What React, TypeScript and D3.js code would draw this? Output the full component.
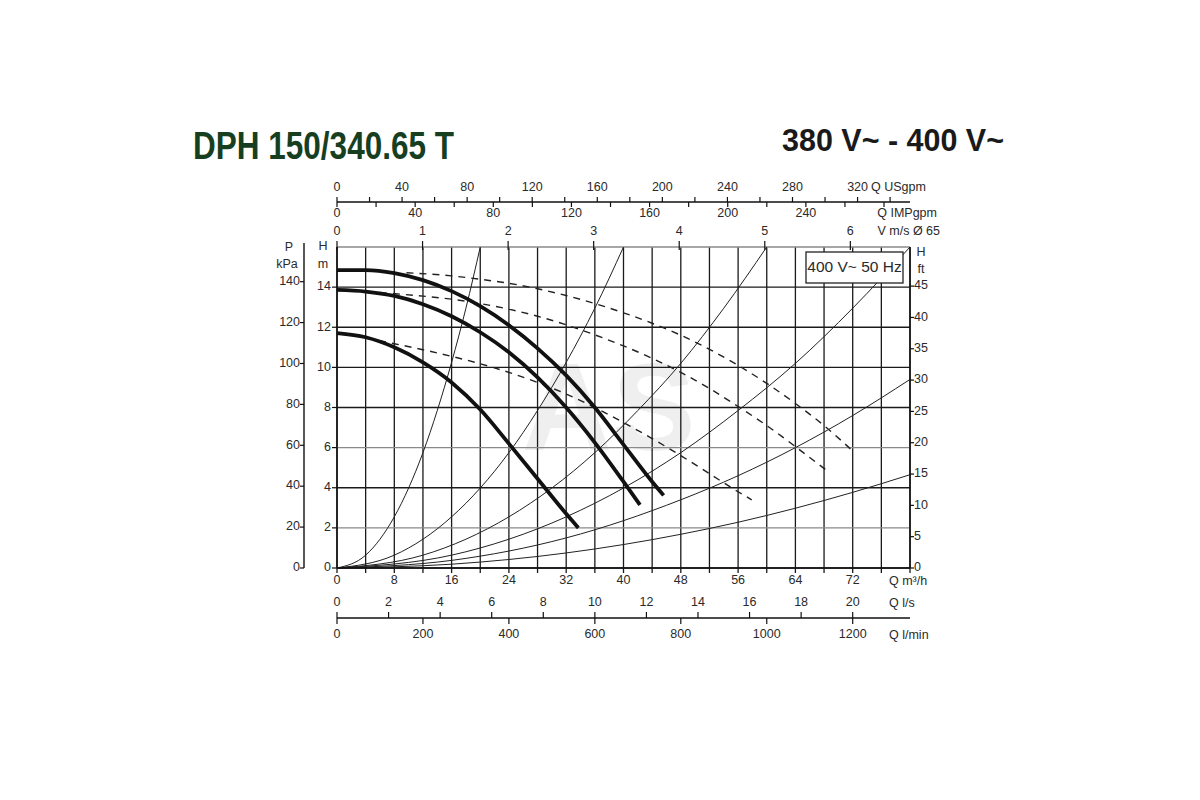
import { useEffect, useRef } from 'react'
import * as d3 from 'd3'

type Pt = [number, number]

// Pump curves (Q m³/h, H m), thick solid
const curveMax: Pt[] = [[0, 14.85], [4, 14.85], [8, 14.7], [12, 14.35], [16, 13.8], [20, 13.05], [24, 12.1], [28, 10.95], [32, 9.6], [36, 8.0], [40, 6.15], [44, 4.3], [45.6, 3.62]]
const curveMid: Pt[] = [[0, 13.86], [4, 13.78], [8, 13.56], [12, 13.15], [16, 12.55], [20, 11.75], [24, 10.75], [28, 9.5], [32, 8.0], [36, 6.25], [40, 4.3], [42.3, 3.15]]
const curveMin: Pt[] = [[0, 11.71], [4, 11.5], [8, 11.0], [12, 10.25], [16, 9.25], [20, 7.9], [24, 6.2], [28, 4.45], [32, 2.7], [33.7, 2.0]]

// Dashed curves
const dashMax: Pt[] = [[9.7, 14.72], [16, 14.56], [20, 14.39], [24, 14.19], [28, 13.92], [32, 13.58], [36, 13.18], [40, 12.72], [44, 12.2], [48, 11.6], [52, 10.9], [56, 10.1], [60, 9.2], [64, 8.2], [68, 7.1], [72.1, 5.8]]
const dashMid: Pt[] = [[6, 13.73], [12, 13.55], [16, 13.4], [20, 13.18], [24, 12.9], [28, 12.55], [32, 12.12], [36, 11.62], [40, 11.07], [44, 10.45], [48, 9.75], [52, 8.95], [56, 8.05], [60, 7.1], [64, 6.05], [68.4, 4.85]]
const dashMin: Pt[] = [[4.1, 11.45], [8, 11.18], [12, 10.88], [16, 10.55], [20, 10.18], [24, 9.75], [28, 9.25], [32, 8.67], [36, 8.0], [40, 7.25], [44, 6.45], [48, 5.6], [52, 4.7], [56, 3.8], [57.9, 3.4]]

// System curves, thin solid
const systemCurves: Pt[][] = [
  [[0, 0], [4, 0.64], [8, 2.55], [12, 5.75], [14, 7.85], [16, 10.25], [18, 12.95], [20, 16]],
  [[0, 0], [8, 0.64], [16, 2.55], [24, 5.75], [28, 7.85], [32, 10.25], [36, 12.95], [40, 16]],
  [[0, 0], [12, 0.64], [24, 2.55], [36, 5.75], [42, 7.85], [48, 10.2], [54, 12.95], [60, 16]],
  [[0, 0], [16, 0.64], [32, 2.55], [48, 5.75], [56, 7.85], [64, 10.2], [72, 12.95], [80, 16]],
  [[0, 0], [16, 0.38], [32, 1.5], [48, 3.4], [56, 4.6], [64, 6.0], [72, 7.6], [80, 9.4]],
  [[0, 0], [16, 0.19], [32, 0.75], [48, 1.68], [56, 2.28], [64, 2.98], [72, 3.77], [80, 4.65]],
]

// Axis ticks
const qTicks = [0, 8, 16, 24, 32, 40, 48, 56, 64, 72]
const hTicks = [0, 2, 4, 6, 8, 10, 12, 14]
const kpaTicks = [0, 20, 40, 60, 80, 100, 120, 140]
const ftTicks = [0, 5, 10, 15, 20, 25, 30, 35, 40, 45]
const usLabels = [0, 40, 80, 120, 160, 200, 240, 280, 320]
const impLabels = [0, 40, 80, 120, 160, 200, 240]
const velLabels = [0, 1, 2, 3, 4, 5, 6]
const lsLabels = [0, 2, 4, 6, 8, 10, 12, 14, 16, 18, 20]
const lminLabels = [0, 200, 400, 600, 800, 1000, 1200]
const greyRows = [2, 6, 16]

const FONT = '"Liberation Sans Narrow", "Arial Narrow", "Liberation Sans", Arial, sans-serif'
const INK = '#2a2a2a'

const PumpChart = () => {
  const svgRef = useRef<SVGSVGElement>(null)

  useEffect(() => {
    if (!svgRef.current) return
    const svg = d3.select(svgRef.current)
    svg.selectAll('*').remove()

    const x = d3.scaleLinear().domain([0, 80]).range([337, 910])
    const y = d3.scaleLinear().domain([0, 16]).range([568, 247])
    const ft = d3.scaleLinear().domain([0, 45]).range([y(0), y(14.05)])
    const kpa = (v: number) => y(v / 9.81)
    const us = d3.scaleLinear().domain([0, 80 * 4.4029]).range([x(0), x(80)])
    const imp = d3.scaleLinear().domain([0, 80 * 3.6662]).range([x(0), x(80)])
    const vel = d3.scaleLinear().domain([0, 80 / 11.945]).range([x(0), x(80)])
    const ls = d3.scaleLinear().domain([0, 80 / 3.6]).range([x(0), x(80)])
    const lmin = d3.scaleLinear().domain([0, 80 * 1000 / 60]).range([x(0), x(80)])

    const text = (tx: number, ty: number, s: string, anchor = 'middle', size = 12.5) =>
      svg.append('text')
        .attr('x', tx).attr('y', ty)
        .attr('text-anchor', anchor)
        .attr('dominant-baseline', 'middle')
        .attr('font-family', FONT)
        .attr('font-size', size)
        .attr('fill', INK)
        .text(s)

    // watermark
    svg.append('text')
      .attr('x', 522).attr('y', 450)
      .attr('font-family', '"Liberation Sans", Arial, sans-serif')
      .attr('font-weight', 'bold')
      .attr('font-size', 125)
      .attr('fill', '#000')
      .attr('opacity', 0.06)
      .text('AS')

    // Grid
    const g = svg.append('g')
    d3.range(0, 81, 4).forEach(q => {
      g.append('line')
        .attr('x1', x(q)).attr('x2', x(q))
        .attr('y1', y(16)).attr('y2', y(0) + 5)
        .attr('stroke', '#1a1a1a').attr('stroke-width', 1.3)
    })
    d3.range(0, 17, 2).forEach(h => {
      g.append('line')
        .attr('x1', x(0)).attr('x2', x(80))
        .attr('y1', y(h)).attr('y2', y(h))
        .attr('stroke', greyRows.includes(h) ? '#8a8a8a' : '#1a1a1a')
        .attr('stroke-width', 1.3)
    })

    const line = d3.line<Pt>().x(d => x(d[0])).y(d => y(d[1])).curve(d3.curveMonotoneX)

    // system curves
    systemCurves.forEach(c => {
      svg.append('path').attr('d', line(c)).attr('fill', 'none')
        .attr('stroke', '#222').attr('stroke-width', 1)
    })

    // dashed curves
    ;[dashMax, dashMid, dashMin].forEach(c => {
      svg.append('path').attr('d', line(c)).attr('fill', 'none')
        .attr('stroke', '#222').attr('stroke-width', 1.4)
        .attr('stroke-dasharray', '7,6')
    })

    // pump curves
    ;[curveMax, curveMid, curveMin].forEach(c => {
      svg.append('path').attr('d', line(c)).attr('fill', 'none')
        .attr('stroke', '#111').attr('stroke-width', 3.8)
    })

    // Frame edges
    svg.append('line').attr('x1', x(0)).attr('x2', x(0)).attr('y1', y(16)).attr('y2', y(0))
      .attr('stroke', '#111').attr('stroke-width', 1.5)
    svg.append('line').attr('x1', x(80)).attr('x2', x(80)).attr('y1', y(16)).attr('y2', y(0))
      .attr('stroke', '#111').attr('stroke-width', 1.5)
    svg.append('line').attr('x1', x(0)).attr('x2', x(80)).attr('y1', y(0)).attr('y2', y(0))
      .attr('stroke', '#111').attr('stroke-width', 1.5)

    // Bottom Q m³/h
    qTicks.forEach(q => text(x(q), 581, String(q)))
    text(889, 582, 'Q m³/h', 'start')

    // l/s and l/min axis
    const axY = 618
    svg.append('line').attr('x1', x(0)).attr('x2', x(80)).attr('y1', axY).attr('y2', axY)
      .attr('stroke', '#111').attr('stroke-width', 1.3)
    lsLabels.forEach(v => {
      svg.append('line').attr('x1', ls(v)).attr('x2', ls(v)).attr('y1', axY - 6).attr('y2', axY)
        .attr('stroke', '#111').attr('stroke-width', 1.2)
      text(ls(v), 603, String(v))
    })
    lminLabels.forEach(v => {
      svg.append('line').attr('x1', lmin(v)).attr('x2', lmin(v)).attr('y1', axY).attr('y2', axY + 6)
        .attr('stroke', '#111').attr('stroke-width', 1.2)
      text(lmin(v), 635, String(v))
    })
    text(889, 604, 'Q l/s', 'start')
    text(889, 636, 'Q l/min', 'start')

    // Top USgpm / IMPgpm axis
    const topY = 202
    svg.append('line').attr('x1', x(0)).attr('x2', x(80)).attr('y1', topY).attr('y2', topY)
      .attr('stroke', '#111').attr('stroke-width', 1.3)
    d3.range(0, 341, 20).forEach(v => {
      svg.append('line').attr('x1', us(v)).attr('x2', us(v)).attr('y1', topY - 5).attr('y2', topY)
        .attr('stroke', '#111').attr('stroke-width', 1.2)
    })
    d3.range(0, 281, 20).forEach(v => {
      svg.append('line').attr('x1', imp(v)).attr('x2', imp(v)).attr('y1', topY).attr('y2', topY + 5)
        .attr('stroke', '#111').attr('stroke-width', 1.2)
    })
    usLabels.forEach(v => text(us(v), 188, String(v)))
    impLabels.forEach(v => text(imp(v), 214, String(v)))
    text(871, 188, 'Q USgpm', 'start')
    text(937, 214, 'Q IMPgpm', 'end')

    // velocity ticks on top edge
    velLabels.forEach(v => {
      svg.append('line').attr('x1', vel(v)).attr('x2', vel(v)).attr('y1', y(16) - 6).attr('y2', y(16) + 3)
        .attr('stroke', '#111').attr('stroke-width', 1.2)
      text(vel(v), 232, String(v))
    })
    text(940, 232, 'V m/s Ø 65', 'end')

    // Left H m axis
    hTicks.forEach(h => {
      svg.append('line').attr('x1', x(0) - 5).attr('x2', x(0)).attr('y1', y(h)).attr('y2', y(h))
        .attr('stroke', '#111').attr('stroke-width', 1.2)
      text(x(0) - 6, y(h), String(h), 'end')
    })
    text(323, 247, 'H')
    text(323, 265, 'm')

    // P kPa axis
    const pX = 304
    svg.append('line').attr('x1', pX).attr('x2', pX).attr('y1', 243).attr('y2', y(0))
      .attr('stroke', '#111').attr('stroke-width', 1.4)
    kpaTicks.forEach(v => {
      svg.append('line').attr('x1', pX - 4).attr('x2', pX).attr('y1', kpa(v)).attr('y2', kpa(v))
        .attr('stroke', '#111').attr('stroke-width', 1.2)
      text(pX - 4, kpa(v), String(v), 'end')
    })
    text(289, 248, 'P')
    text(287, 265, 'kPa')

    // Right ft axis
    ftTicks.forEach(v => {
      svg.append('line').attr('x1', x(80)).attr('x2', x(80) + 4).attr('y1', ft(v)).attr('y2', ft(v))
        .attr('stroke', '#111').attr('stroke-width', 1.2)
      text(x(80) + 4, ft(v), String(v), 'start')
    })
    text(921, 253, 'H')
    text(921, 270, 'ft')

    // legend box
    svg.append('rect').attr('x', 806).attr('y', 252).attr('width', 97).attr('height', 31)
      .attr('fill', '#fff').attr('stroke', '#222').attr('stroke-width', 1.3)
    text(854.5, 268, '400 V~ 50 Hz', 'middle', 15.5)

    // Titles
    svg.append('text')
      .attr('x', 193).attr('y', 159)
      .attr('font-family', FONT).attr('font-weight', 'bold').attr('font-size', 38)
      .attr('fill', '#173f1f')
      .attr('textLength', 261).attr('lengthAdjust', 'spacingAndGlyphs')
      .text('DPH 150/340.65 T')
    svg.append('text')
      .attr('x', 782).attr('y', 151)
      .attr('font-family', FONT).attr('font-weight', 'bold').attr('font-size', 31)
      .attr('fill', '#1a1a1a')
      .attr('textLength', 222).attr('lengthAdjust', 'spacingAndGlyphs')
      .text('380 V~ - 400 V~')
  }, [])

  return <svg ref={svgRef} width={1200} height={800} style={{ position: 'absolute', left: 0, top: 0, background: '#fff' }} />
}

export default function App() {
  return <PumpChart />
}
